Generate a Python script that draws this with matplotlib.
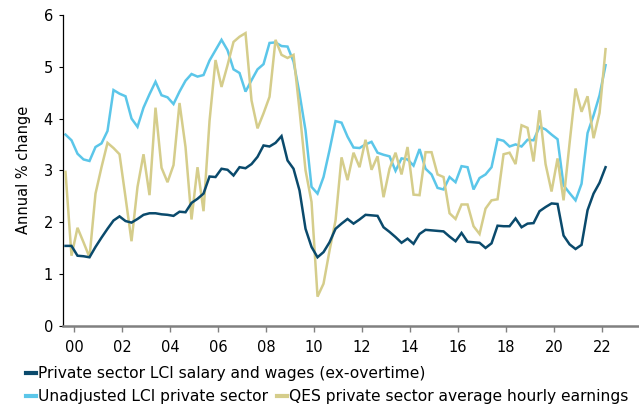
import matplotlib
matplotlib.use("Agg")
import matplotlib.pyplot as plt
import numpy as np
from matplotlib.lines import Line2D

# Quarterly observations, first point ~ Q3 1999
start_year = 1999.65
lci_ex_overtime = [1.54, 1.54, 1.35, 1.34, 1.32, 1.52, 1.70, 1.87, 2.03, 2.11,
                   2.02, 1.99, 2.06, 2.14, 2.17, 2.17, 2.15, 2.14, 2.12, 2.20,
                   2.19, 2.37, 2.45, 2.55, 2.88, 2.87, 3.03, 3.01, 2.90, 3.06,
                   3.04, 3.12, 3.26, 3.48, 3.46, 3.53, 3.66, 3.19, 3.03, 2.61,
                   1.87, 1.52, 1.32, 1.42, 1.61, 1.87, 1.97, 2.06, 1.97, 2.05,
                   2.14, 2.13, 2.12, 1.90, 1.81, 1.71, 1.60, 1.68, 1.58, 1.77,
                   1.85, 1.84, 1.83, 1.82, 1.72, 1.63, 1.79, 1.62, 1.61, 1.60,
                   1.50, 1.59, 1.93, 1.92, 1.92, 2.07, 1.90, 1.97, 1.98, 2.21,
                   2.29, 2.36, 2.35, 1.74, 1.57, 1.48, 1.56, 2.23, 2.55, 2.76,
                   3.06]
lci_unadjusted = [3.69, 3.58, 3.32, 3.21, 3.18, 3.45, 3.52, 3.76, 4.55, 4.48,
                  4.43, 4.00, 3.84, 4.21, 4.47, 4.71, 4.45, 4.41, 4.28, 4.52,
                  4.73, 4.86, 4.81, 4.84, 5.12, 5.32, 5.52, 5.32, 4.95, 4.88,
                  4.52, 4.74, 4.95, 5.05, 5.46, 5.47, 5.40, 5.39, 5.10, 4.48,
                  3.77, 2.68, 2.55, 2.87, 3.39, 3.95, 3.92, 3.65, 3.44, 3.43,
                  3.50, 3.55, 3.34, 3.30, 3.27, 2.99, 3.23, 3.21, 3.09, 3.41,
                  3.03, 2.92, 2.66, 2.63, 2.87, 2.77, 3.08, 3.06, 2.63, 2.85,
                  2.92, 3.06, 3.60, 3.57, 3.46, 3.50, 3.46, 3.59, 3.58, 3.84,
                  3.79, 3.69, 3.60, 2.71, 2.56, 2.42, 2.74, 3.72, 4.06, 4.45,
                  5.03]
qes_hourly = [2.97, 1.35, 1.89, 1.61, 1.32, 2.55, 3.06, 3.53, 3.43, 3.31,
              2.48, 1.63, 2.68, 3.31, 2.52, 4.21, 3.05, 2.77, 3.10, 4.30,
              3.45, 2.05, 3.06, 2.21, 3.95, 5.13, 4.61, 5.03, 5.48, 5.58,
              5.65, 4.35, 3.81, 4.10, 4.42, 5.52, 5.23, 5.17, 5.23, 4.16,
              3.00, 2.39, 0.56, 0.81, 1.45, 2.03, 3.25, 2.81, 3.34, 3.06,
              3.59, 3.01, 3.27, 2.48, 3.03, 3.34, 2.92, 3.45, 2.53, 2.52,
              3.35, 3.35, 2.92, 2.87, 2.17, 2.06, 2.34, 2.34, 1.92, 1.77,
              2.26, 2.42, 2.44, 3.31, 3.34, 3.12, 3.87, 3.82, 3.17, 4.16,
              3.12, 2.59, 3.23, 2.42, 3.52, 4.58, 4.13, 4.43, 3.62, 4.11,
              5.34]
tick_years = [2000, 2002, 2004, 2006, 2008, 2010, 2012, 2014, 2016, 2018, 2020, 2022]
tick_labels = ["00", "02", "04", "06", "08", "10", "12", "14", "16", "18", "20", "22"]
series_names = ["Private sector LCI salary and wages (ex-overtime)",
                "Unadjusted LCI private sector",
                "QES private sector average hourly earnings"]

c_dark = "#0a4a6c"
c_light = "#5bc6e9"
c_khaki = "#d5cd8b"

t = start_year + 0.25 * np.arange(len(lci_ex_overtime))

plt.rcParams['font.family'] = ['DejaVu Sans']
fig = plt.figure(figsize=(6.39, 4.05), dpi=100)
ax = fig.add_axes([0.098, 0.196, 0.900, 0.767])

lw = 1.8
ax.plot(t, lci_unadjusted, color=c_light, lw=lw, zorder=2, solid_joinstyle='miter')
ax.plot(t, qes_hourly, color=c_khaki, lw=lw, zorder=3, solid_joinstyle='miter')
ax.plot(t, lci_ex_overtime, color=c_dark, lw=lw, zorder=4, solid_joinstyle='miter')

ax.set_xlim(1999.53, 2023.49)
ax.set_ylim(0, 6)
ax.set_yticks(range(0, 7))
ax.set_xticks(tick_years)
ax.set_xticklabels(tick_labels)
ax.tick_params(axis='y', length=3, width=0.8, colors='black', labelsize=10.5, pad=4)
ax.tick_params(axis='x', length=4, width=1.0, color='#808080', labelcolor='black', labelsize=10.5, pad=6)
for s in ['top', 'right']:
    ax.spines[s].set_visible(False)
ax.spines['left'].set_color('black')
ax.spines['left'].set_linewidth(0.9)
ax.spines['bottom'].set_color('#808080')
ax.spines['bottom'].set_linewidth(1.8)
ax.set_ylabel("Annual % change", fontsize=10.5, labelpad=9)

h = [Line2D([], [], color=c, lw=3) for c in (c_dark, c_light, c_khaki)]
leg_kw = dict(frameon=False, fontsize=11.2, handlelength=0.65, handletextpad=0.12,
              borderaxespad=0, borderpad=0, columnspacing=0.55)
l1 = fig.legend([h[0]], [series_names[0]], loc='center left',
                bbox_to_anchor=(0.041, 1 - 373.5 / 405), **leg_kw)
l2 = fig.legend(h[1:], series_names[1:], loc='center left', ncol=2,
                bbox_to_anchor=(0.041, 1 - 396.5 / 405), **leg_kw)

fig.savefig("out.png", dpi=100)
